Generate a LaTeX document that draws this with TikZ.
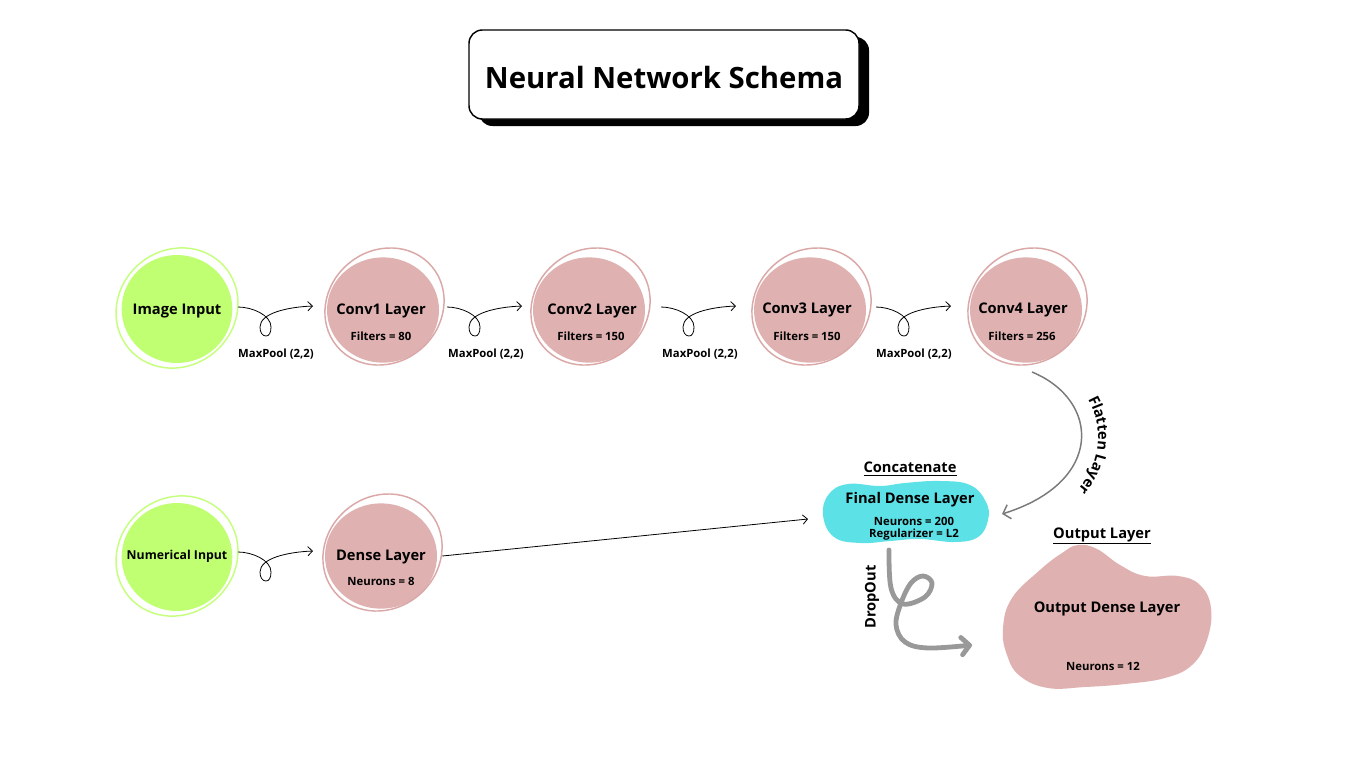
\documentclass[tikz,border=0pt]{standalone}
\usepackage{fontspec}
\setmainfont{Open Sans}
\usetikzlibrary{arrows.meta,calc,decorations.text,shapes.geometric}
\definecolor{pinkfill}{HTML}{DFB1B1}
\definecolor{pinkring}{HTML}{DBA8A8}
\definecolor{greenfill}{HTML}{C1FF72}
\definecolor{greenring}{HTML}{C6FF7E}
\definecolor{cyanfill}{HTML}{5CE1E6}
\definecolor{flatgray}{HTML}{7A7A7A}
\definecolor{dropgray}{HTML}{999999}
\tikzset{
  pinkcirc/.style={ellipse, fill=pinkfill, minimum width=84pt, minimum height=79pt, inner sep=0pt},
  greencirc/.style={ellipse, fill=greenfill, minimum width=83pt, minimum height=81pt, inner sep=0pt},
  pinkringst/.style={draw=pinkring, line width=1.1pt},
  greenringst/.style={draw=greenring, line width=1.1pt},
  lbl/.style={font=\fontsize{11}{13}\selectfont\bfseries, inner sep=0pt},
  sml/.style={font=\fontsize{8.5}{10}\selectfont\bfseries, inner sep=0pt},
  thinarr/.style={draw=black, line width=0.6pt, -{Straight Barb[length=3.5pt,width=7pt]}},
  pics/loopar/.style={code={
    \draw[thinarr] (0,0) .. controls (14,0) and (33,8) .. (33,20)
      .. controls (33,26) and (31,29) .. (28,29)
      .. controls (24,29) and (22,25) .. (22,20)
      .. controls (22,6) and (50,0) .. (75,-1);}},
  pics/ringp/.style={code={
    \draw[pinkringst] (1.5,-3.5) ellipse [x radius=62, y radius=56, rotate=40];}},
  pics/ringg/.style={code={
    \draw[greenringst] (0,-1) ellipse [x radius=63, y radius=58, rotate=40];}}
}
\begin{document}
\begin{tikzpicture}[x=0.75pt,y=-0.75pt]
\path[use as bounding box, fill=white] (0,0) rectangle (1366,768);

% title
\fill[black, rounded corners=10pt] (479,37) rectangle (869,126);
\draw[fill=white, line width=1.1pt, rounded corners=10pt] (469,30) rectangle (859,119);
\node[font=\fontsize{22}{26}\selectfont\bfseries, inner sep=0pt] (title) at (664,77) {Neural Network Schema};

% row 1 circles
\node[greencirc] (img) at (177,309) {};
\pic at (img.center) {ringg};
\node[pinkcirc] (c1) at (383,310) {};
\pic at (c1.center) {ringp};
\node[pinkcirc] (c2) at (589,310) {};
\pic at (c2.center) {ringp};
\node[pinkcirc] (c3) at (810,310) {};
\pic at (c3.center) {ringp};
\node[pinkcirc] (c4) at (1026,310) {};
\pic at (c4.center) {ringp};

\node[lbl] (imgt) at (177,311) {Image Input};
\node[lbl] (c1t) at (381,311) {Conv1 Layer};
\node[sml] (c1s) at (381,336) {Filters = 80};
\node[lbl] (c2t) at (592,311) {Conv2 Layer};
\node[sml] (c2s) at (591,336) {Filters = 150};
\node[lbl] (c3t) at (807,310) {Conv3 Layer};
\node[sml] (c3s) at (807,336) {Filters = 150};
\node[lbl] (c4t) at (1023,310) {Conv4 Layer};
\node[sml] (c4s) at (1022,336) {Filters = 256};

% maxpool loops
\pic at (238,307) {loopar};
\pic at (447,307) {loopar};
\pic at (661,307) {loopar};
\pic at (876,307) {loopar};
\node[sml] (mp1) at (276,354) {MaxPool (2,2)};
\node[sml] (mp2) at (486,354) {MaxPool (2,2)};
\node[sml] (mp3) at (700,354) {MaxPool (2,2)};
\node[sml] (mp4) at (914,354) {MaxPool (2,2)};

% row 2
\node[greencirc] (num) at (177,557) {};
\pic at (num.center) {ringg};
\node[pinkcirc] (dense) at (381,556) {};
\pic at (dense.center) {ringp};
\node[font=\fontsize{9.2}{11}\selectfont\bfseries, inner sep=0pt] (numt) at (177,556) {Numerical Input};
\node[lbl] (denset) at (381,557) {Dense Layer};
\node[sml] (denses) at (381,581) {Neurons = 8};
\pic at (238,552) {loopar};

% final dense layer blob
\fill[cyanfill] plot[smooth cycle, tension=0.7] coordinates {(823,515) (829,494) (848,484) (880,486) (905,483) (940,481) (970,485) (986,502) (988,520) (978,537) (955,542) (920,539) (890,541) (860,543) (834,537)};
\node[lbl] (fdl) at (910,500) {Final Dense Layer};
\node[sml] (fdl1) at (914,521) {Neurons = 200};
\node[sml] (fdl2) at (914,535) {Regularizer = L2};
\node[lbl] (concat) at (910,469) {\underline{Concatenate}};
\coordinate (fdlin) at (808,519);
\draw[thinarr] ($(dense.east)+(5,0)$) -- (fdlin);

% flatten
\coordinate (fstart) at (1032,372);
\coordinate (fend) at (1002,514);
\draw[draw=flatgray, line width=1.1pt, -{Straight Barb[length=5pt,width=11pt]}] (fstart) .. controls (1100,400) and (1105,482) .. (fend);
\path[decorate, decoration={text along path, text align=center,
  text={|\fontsize{11}{13}\selectfont\bfseries|Flatten Layer}}]
  (1085,394) .. controls (1104,424) and (1104,462) .. (1074,494);

% output blob
\fill[pinkfill] plot[smooth cycle, tension=0.7] coordinates {(1003,628) (1012,598) (1040,570) (1062,553) (1078,545) (1097,549) (1120,565) (1145,576) (1178,576) (1200,585) (1211,608) (1207,640) (1192,665) (1165,678) (1125,684) (1085,687) (1048,688) (1020,676) (1007,655)};
\node[lbl] (outt) at (1107,609) {Output Dense Layer};
\node[sml] (outs) at (1103,666) {Neurons = 12};
\node[lbl] (outl) at (1102,536) {\underline{Output Layer}};

% dropout
\draw[draw=dropgray, line width=3.6pt, line cap=round, line join=round,
  -{Straight Barb[length=6pt,width=13pt,round]}]
  plot[smooth, tension=0.6] coordinates {(889,550) (891,588) (903,604) (925,597) (932,583) (923,576) (911,583) (901,603) (896,625) (905,642) (928,648) (972,645)};
\node[lbl, rotate=90] (drop) at (872,597) {DropOut};
\end{tikzpicture}
\end{document}
